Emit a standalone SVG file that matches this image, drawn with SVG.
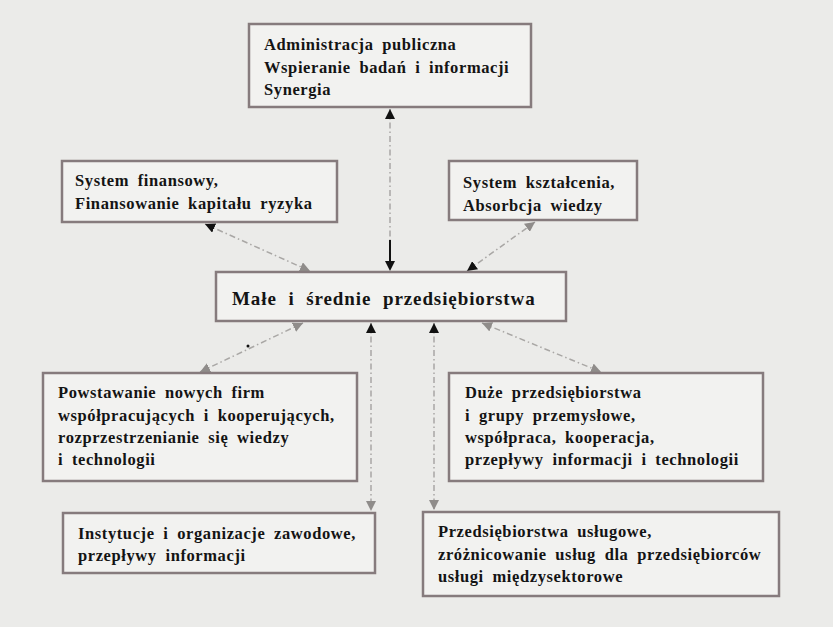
<svg xmlns="http://www.w3.org/2000/svg" width="833" height="627" viewBox="0 0 833 627">
<style>
.bg{fill:#ebebe9}
.box{fill:#f2f2f0;stroke:#867b7d;stroke-width:2.5}
.t{font-family:"Liberation Serif","Times New Roman",serif;font-size:16.5px;font-weight:bold;fill:#141414;letter-spacing:0.6px;word-spacing:4px}
.tc{font-family:"Liberation Serif","Times New Roman",serif;font-size:19px;font-weight:bold;fill:#141414;letter-spacing:0.9px;word-spacing:6px}
.c{fill:none;stroke:#a9a7a5;stroke-width:1.5;stroke-dasharray:6 3 1.5 3}
.cb{fill:none;stroke:#111;stroke-width:2}
</style>
<defs>
<marker id="ak" markerUnits="userSpaceOnUse" markerWidth="11" markerHeight="10" refX="10" refY="5" orient="auto-start-reverse"><path d="M0,0 L10,5 L0,10 z" fill="#111"/></marker>
<marker id="ag" markerUnits="userSpaceOnUse" markerWidth="11" markerHeight="10" refX="10" refY="5" orient="auto-start-reverse"><path d="M0,0 L10,5 L0,10 z" fill="#8f8c8a"/></marker>
</defs>
<rect class="bg" x="0" y="0" width="833" height="627"/>
<g id="connectors">
<line class="c" x1="390" y1="109" x2="390" y2="271" marker-start="url(#ak)" marker-end="url(#ak)"/>
<line class="cb" x1="390" y1="240" x2="390" y2="265"/>
<line class="c" x1="205" y1="224" x2="310" y2="271" marker-start="url(#ak)" marker-end="url(#ag)"/>
<line class="c" x1="467" y1="271" x2="535" y2="222" marker-start="url(#ak)" marker-end="url(#ag)"/>
<line class="c" x1="303" y1="323" x2="200" y2="372" marker-start="url(#ag)" marker-end="url(#ag)"/>
<circle cx="248" cy="346" r="1.5" fill="#111"/>
<line class="c" x1="371" y1="323" x2="371" y2="511" marker-start="url(#ak)" marker-end="url(#ag)"/>
<line class="c" x1="434" y1="323" x2="434" y2="510" marker-start="url(#ak)" marker-end="url(#ag)"/>
<line class="c" x1="482" y1="323" x2="601" y2="372" marker-start="url(#ag)" marker-end="url(#ag)"/>
</g>
<g id="admin">
<rect class="box" x="249" y="24" width="282" height="83"/>
<text class="t" x="264" y="50">Administracja publiczna</text>
<text class="t" x="264" y="73">Wspieranie badań i informacji</text>
<text class="t" x="264" y="95">Synergia</text>
</g>
<g id="finanse">
<rect class="box" x="62" y="161" width="275" height="61"/>
<text class="t" x="75" y="186">System finansowy,</text>
<text class="t" x="75" y="209">Finansowanie kapitału ryzyka</text>
</g>
<g id="ksztalcenie">
<rect class="box" x="449" y="161" width="188" height="59"/>
<text class="t" x="463" y="188">System kształcenia,</text>
<text class="t" x="463" y="211">Absorbcja wiedzy</text>
</g>
<g id="msp">
<rect class="box" x="216" y="272" width="350" height="49"/>
<text class="tc" x="232" y="305">Małe i średnie przedsiębiorstwa</text>
</g>
<g id="nowe-firmy">
<rect class="box" x="43" y="373" width="314" height="108"/>
<text class="t" x="58" y="398">Powstawanie nowych firm</text>
<text class="t" x="58" y="421">współpracujących i kooperujących,</text>
<text class="t" x="58" y="443">rozprzestrzenianie się wiedzy</text>
<text class="t" x="58" y="465">i technologii</text>
</g>
<g id="duze">
<rect class="box" x="449" y="373" width="314" height="108"/>
<text class="t" x="465" y="398">Duże przedsiębiorstwa</text>
<text class="t" x="465" y="421">i grupy przemysłowe,</text>
<text class="t" x="465" y="443">współpraca, kooperacja,</text>
<text class="t" x="465" y="465">przepływy informacji i technologii</text>
</g>
<g id="instytucje">
<rect class="box" x="63" y="513" width="312" height="60"/>
<text class="t" x="78" y="539">Instytucje i organizacje zawodowe,</text>
<text class="t" x="78" y="561">przepływy informacji</text>
</g>
<g id="uslugowe">
<rect class="box" x="423" y="512" width="356" height="84"/>
<text class="t" x="438" y="537">Przedsiębiorstwa usługowe,</text>
<text class="t" x="438" y="560">zróżnicowanie usług dla przedsiębiorców</text>
<text class="t" x="438" y="582">usługi międzysektorowe</text>
</g>
</svg>
